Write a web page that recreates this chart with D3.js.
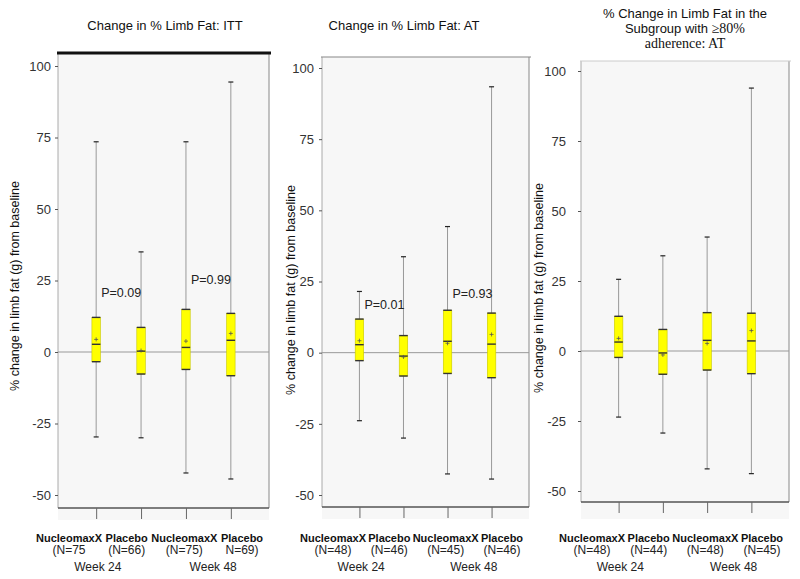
<!DOCTYPE html>
<html lang="en">
<head>
<meta charset="UTF-8">
<script src="https://cdn.jsdelivr.net/npm/d3@7"></script>
<style>
  body { margin: 0; background: #fff; font-family: Arial, "Liberation Sans", sans-serif; }
  .tick text { font-size: 13px; fill: #333; }
</style>
</head>
<body>
<svg id="chart" width="800" height="579"></svg>
<script>
// ---- data ----
const groups = ["NucleomaxX", "Placebo", "NucleomaxX", "Placebo"];
const weeks = ["Week 24", "Week 48"];
const yTicks = [-50, -25, 0, 25, 50, 75, 100];

const nITT = ["(N=75", "(N=66)", "(N=75)", "N=69)"];
const nAT  = ["(N=48)", "(N=46)", "(N=45)", "(N=46)"];
const nSub = ["(N=48)", "(N=44)", "(N=48)", "(N=45)"];

const minITT  = [-29.7, -30.0, -42.3, -44.4];
const q1ITT   = [-3.4, -7.7, -6.1, -8.3];
const medITT  = [2.7, 0.3, 1.6, 4.1];
const meanITT = [4.4, 0.5, 3.8, 6.5];
const q3ITT   = [12.1, 8.6, 14.9, 13.5];
const maxITT  = [73.5, 35.0, 73.5, 94.4];

const minAT  = [-23.9, -30.0, -42.6, -44.4];
const q1AT   = [-2.8, -8.2, -7.3, -8.8];
const medAT  = [2.8, -1.2, 4.0, 3.0];
const meanAT = [4.2, -1.5, 3.3, 6.4];
const q3AT   = [11.8, 6.0, 14.9, 13.9];
const maxAT  = [21.5, 33.7, 44.3, 93.4];

const minSub  = [-23.6, -29.3, -42.1, -43.8];
const q1Sub   = [-2.3, -8.3, -6.8, -8.1];
const medSub  = [3.2, -0.7, 3.8, 3.6];
const meanSub = [4.5, -1.4, 2.7, 7.3];
const q3Sub   = [12.4, 7.7, 13.7, 13.5];
const maxSub  = [25.6, 34.0, 40.7, 93.9];

const pITT = ["P=0.09", "P=0.99"];
const pITTy = [20.6, 25.2];
const pAT = ["P=0.01", "P=0.93"];
const pATy = [16.9, 20.7];

const yTitle = "% change in limb fat (g) from baseline";

// ---- panels ----
const panels = [
  { title: [["Change in % Limb Fat: ITT"]], n: nITT, min: minITT, q1: q1ITT, med: medITT, mean: meanITT, q3: q3ITT, max: maxITT, p: pITT, py: pITTy,
    left: 58, right: 269, top: 53, bottom: 508, band: 520, y100: 66, yM50: 495, tickPad: 5, titleCx: 165, titleY: [30],
    axX: 15, axY: 286, topStroke: "#111", topW: 3 },
  { title: [["Change in % Limb Fat: AT"]], n: nAT, min: minAT, q1: q1AT, med: medAT, mean: meanAT, q3: q3AT, max: maxAT, p: pAT, py: pATy,
    left: 322, right: 529, top: 57, bottom: 507, band: 519, y100: 68, yM50: 495, tickPad: 6, titleCx: 404, titleY: [30],
    axX: 291, axY: 290, topStroke: "#888", topW: 1.2 },
  { title: [["% Change in Limb Fat in the"], ["Subgroup with ", "\u226580%"], ["", "adherence: AT"]], n: nSub, min: minSub, q1: q1Sub, med: medSub, mean: meanSub, q3: q3Sub, max: maxSub, p: [], py: [],
    left: 581, right: 789, top: 61, bottom: 502, band: 519, y100: 71, yM50: 491, tickPad: 13, titleCx: 685, titleY: [18, 33, 48],
    axX: 539, axY: 288, topStroke: "#ccc", topW: 1 }
];

const svg = d3.select("#chart");

panels.forEach(pn => {
  const g = svg.append("g");
  const y = d3.scaleLinear().domain([-50, 100]).range([pn.yM50, pn.y100]);
  const x = d3.scalePoint().domain(d3.range(groups.length)).range([pn.left, pn.right]).padding(0.85);
  const lx = d3.scalePoint().domain(d3.range(groups.length)).range([pn.left + 11, pn.right - 27]);

  // background + borders
  g.append("rect").attr("x", pn.left).attr("y", pn.top)
    .attr("width", pn.right - pn.left).attr("height", pn.band - pn.top).attr("fill", "#f7f7f7");
  g.append("line").attr("x1", pn.left).attr("x2", pn.left).attr("y1", pn.top).attr("y2", pn.bottom)
    .attr("stroke", "#aaa");
  g.append("line").attr("x1", pn.right).attr("x2", pn.right).attr("y1", pn.top).attr("y2", pn.bottom)
    .attr("stroke", "#888");
  g.append("line").attr("x1", pn.left - 1).attr("x2", pn.right + 2).attr("y1", pn.top).attr("y2", pn.top)
    .attr("stroke", pn.topStroke).attr("stroke-width", pn.topW);
  g.append("line").attr("x1", pn.left).attr("x2", pn.right).attr("y1", pn.bottom).attr("y2", pn.bottom)
    .attr("stroke", "#555").attr("stroke-width", 1.5);

  // zero line
  g.append("line").attr("x1", pn.left).attr("x2", pn.right).attr("y1", y(0)).attr("y2", y(0))
    .attr("stroke", "#999");

  // y axis
  const ya = g.append("g").attr("transform", `translate(${pn.left},0)`)
    .call(d3.axisLeft(y).tickValues(yTicks).tickSize(3).tickPadding(pn.tickPad - 1).tickFormat(d => String(d)));
  ya.select(".domain").remove();
  ya.selectAll(".tick line").attr("stroke", "#555");

  // x ticks below plot
  const xa = g.append("g").attr("transform", `translate(0,${pn.bottom})`)
    .call(d3.axisBottom(x).tickSize(11).tickFormat(""));
  xa.select(".domain").remove();
  xa.selectAll(".tick line").attr("stroke", "#666");

  // whiskers
  const idx = d3.range(groups.length);
  g.selectAll(".whisk").data(idx).enter().append("line")
    .attr("x1", i => x(i)).attr("x2", i => x(i))
    .attr("y1", i => y(pn.max[i])).attr("y2", i => y(pn.min[i]))
    .attr("stroke", "#999");
  [pn.max, pn.min].forEach(arr => {
    g.selectAll(null).data(idx).enter().append("line")
      .attr("x1", i => x(i) - 2.5).attr("x2", i => x(i) + 2.5)
      .attr("y1", i => y(arr[i])).attr("y2", i => y(arr[i]))
      .attr("stroke", "#222").attr("stroke-width", 1.2);
  });

  // boxes
  const bw = 8.5;
  g.selectAll(".box").data(idx).enter().append("rect")
    .attr("x", i => x(i) - bw / 2).attr("width", bw)
    .attr("y", i => y(pn.q3[i])).attr("height", i => y(pn.q1[i]) - y(pn.q3[i]))
    .attr("fill", "#ffff00").attr("stroke", "#c8c800").attr("stroke-width", 0.6);
  [pn.q3, pn.q1, pn.med].forEach(arr => {
    g.selectAll(null).data(idx).enter().append("line")
      .attr("x1", i => x(i) - bw / 2).attr("x2", i => x(i) + bw / 2)
      .attr("y1", i => y(arr[i])).attr("y2", i => y(arr[i]))
      .attr("stroke", "#333").attr("stroke-width", 1.4);
  });
  // mean markers
  g.selectAll(null).data(idx).enter().append("path")
    .attr("d", i => `M${x(i) - 2},${y(pn.mean[i])}h4M${x(i)},${y(pn.mean[i]) - 2}v4`)
    .attr("stroke", "#555").attr("stroke-width", 0.8);

  // p-values
  g.selectAll(null).data(pn.p).enter().append("text")
    .attr("x", (d, k) => x(k * 2) + 5).attr("y", (d, k) => y(pn.py[k]) + 4)
    .attr("font-size", 12.5).attr("fill", "#222").text(d => d);

  // category labels
  g.selectAll(null).data(groups).enter().append("text")
    .attr("x", (d, i) => lx(i)).attr("y", 542).attr("text-anchor", "middle")
    .attr("font-size", 11).attr("font-weight", "bold").attr("fill", "#111").text(d => d);
  g.selectAll(null).data(pn.n).enter().append("text")
    .attr("x", (d, i) => lx(i)).attr("y", 554).attr("text-anchor", "middle")
    .attr("font-size", 12).attr("fill", "#222").text(d => d);
  g.selectAll(null).data(weeks).enter().append("text")
    .attr("x", (d, k) => (lx(k * 2) + lx(k * 2 + 1)) / 2).attr("y", 571).attr("text-anchor", "middle")
    .attr("font-size", 12).attr("fill", "#222").text(d => d);

  // axis title
  g.append("text").attr("transform", `translate(${pn.axX + 4},${pn.axY}) rotate(-90)`)
    .attr("text-anchor", "middle").attr("font-size", 12.5).attr("fill", "#111").text(yTitle);

  // panel title
  pn.title.forEach((parts, li) => {
    const t = g.append("text").attr("x", pn.titleCx).attr("y", pn.titleY[li])
      .attr("text-anchor", "middle").attr("font-size", 13).attr("fill", "#111");
    parts.forEach((s, k) => {
      if (!s) return;
      t.append("tspan").text(s)
        .attr("font-family", k === 1 ? "'Liberation Serif', 'Times New Roman', serif" : null)
        .attr("font-size", k === 1 ? 14 : null);
    });
  });
});
</script>
</body>
</html>
